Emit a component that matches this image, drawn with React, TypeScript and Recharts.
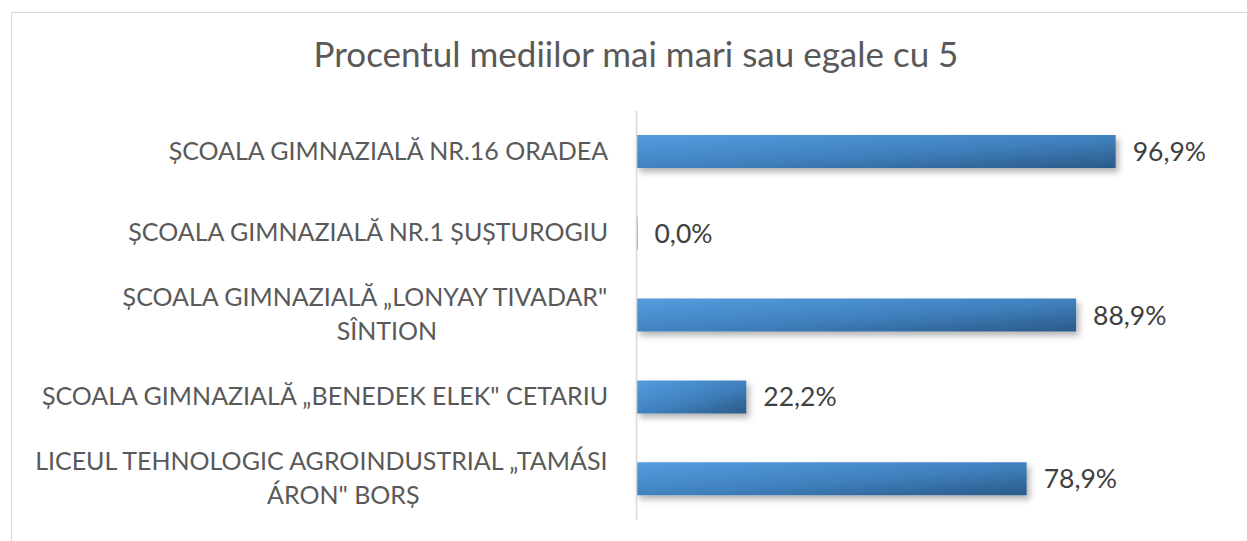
import { BarChart, Bar, XAxis, YAxis, LabelList } from 'recharts';

// category labels ("\n" marks where the original wraps)
const schools = [
  'ȘCOALA GIMNAZIALĂ NR.16 ORADEA',
  'ȘCOALA GIMNAZIALĂ NR.1 ȘUȘTUROGIU',
  'ȘCOALA GIMNAZIALĂ „LONYAY TIVADAR"\nSÎNTION',
  'ȘCOALA GIMNAZIALĂ „BENEDEK ELEK" CETARIU',
  'LICEUL TEHNOLOGIC AGROINDUSTRIAL „TAMÁSI\nÁRON" BORȘ',
];

// percentage of averages >= 5
const percentages = [96.9, 0, 88.9, 22.2, 78.9];

const title = 'Procentul mediilor mai mari sau egale cu 5';

const data = schools.map((name, i) => ({ name, value: percentages[i] }));

const FONT = 'Lato, "Open Sans", sans-serif';
const LABEL_SIZE = 25;
const LABEL_RIGHT = 609;
const LINE_HEIGHT = 34;

let ctx: CanvasRenderingContext2D | null = null;
function measure(text: string) {
  if (!ctx) {
    ctx = document.createElement('canvas').getContext('2d');
  }
  if (!ctx) return text.length * LABEL_SIZE * 0.5;
  ctx.font = `${LABEL_SIZE}px ${FONT}`;
  return ctx.measureText(text).width;
}

function SchoolTick(props: any) {
  const { y, payload } = props;
  const lines: string[] = String(payload.value).split('\n');
  const widest = Math.max(...lines.map(measure));
  const cx = LABEL_RIGHT - widest / 2;
  const top = y - 1 - ((lines.length - 1) * LINE_HEIGHT) / 2;
  return (
    <text
      textAnchor="middle"
      fontSize={LABEL_SIZE}
      fill="#595959"
      fontFamily={FONT}
    >
      {lines.map((line, i) => (
        <tspan key={i} x={i === 0 ? cx : cx + 22} y={top + i * LINE_HEIGHT} dy="0.35em">
          {line}
        </tspan>
      ))}
    </text>
  );
}

const fmt = (v: any) => Number(v).toFixed(1).replace('.', ',') + '%';

export default function App() {
  return (
    <div
      style={{
        position: 'absolute',
        left: 0,
        top: 0,
        width: 1247,
        height: 541,
        overflow: 'hidden',
        background: '#fff',
        fontFamily: FONT,
      }}
    >
      <div
        style={{
          position: 'absolute',
          left: 11,
          top: 12,
          width: 1300,
          height: 700,
          border: '1px solid #d9d9d9',
          boxSizing: 'border-box',
        }}
      />
      <div style={{ position: 'absolute', left: 0, top: 0 }}>
        <BarChart
          width={1247}
          height={541}
          data={data}
          layout="vertical"
          margin={{ top: 111, right: 116, bottom: 21, left: 0 }}
        >
          <defs>
            <linearGradient id="barGrad" x1="0" y1="0" x2="1" y2="1">
              <stop offset="0%" stopColor="#549ddf" />
              <stop offset="55%" stopColor="#3f80bd" />
              <stop offset="100%" stopColor="#2b5a88" />
            </linearGradient>
            <filter id="barShadow" x="-5%" y="-30%" width="115%" height="190%">
              <feDropShadow dx="3" dy="4" stdDeviation="3" floodColor="#000" floodOpacity="0.3" />
            </filter>
          </defs>
          <text
            x={636}
            y={67}
            textAnchor="middle"
            fontSize={35}
            fill="#595959"
            fontFamily={FONT}
          >
            {title}
          </text>
          <XAxis type="number" domain={[0, 100]} hide />
          <YAxis
            type="category"
            dataKey="name"
            width={636.5}
            axisLine={{ stroke: '#d9d9d9', strokeWidth: 1.5 }}
            tickLine={false}
            tick={SchoolTick}
            interval={0}
          />
          <Bar
            dataKey="value"
            fill="url(#barGrad)"
            barSize={33}
            minPointSize={1}
            filter="url(#barShadow)"
            isAnimationActive={false}
          >
            <LabelList
              dataKey="value"
              position="right"
              offset={17}
              formatter={fmt}
              fill="#404040"
              fontSize={26.5}
              fontFamily={FONT}
            />
          </Bar>
        </BarChart>
      </div>
    </div>
  );
}
